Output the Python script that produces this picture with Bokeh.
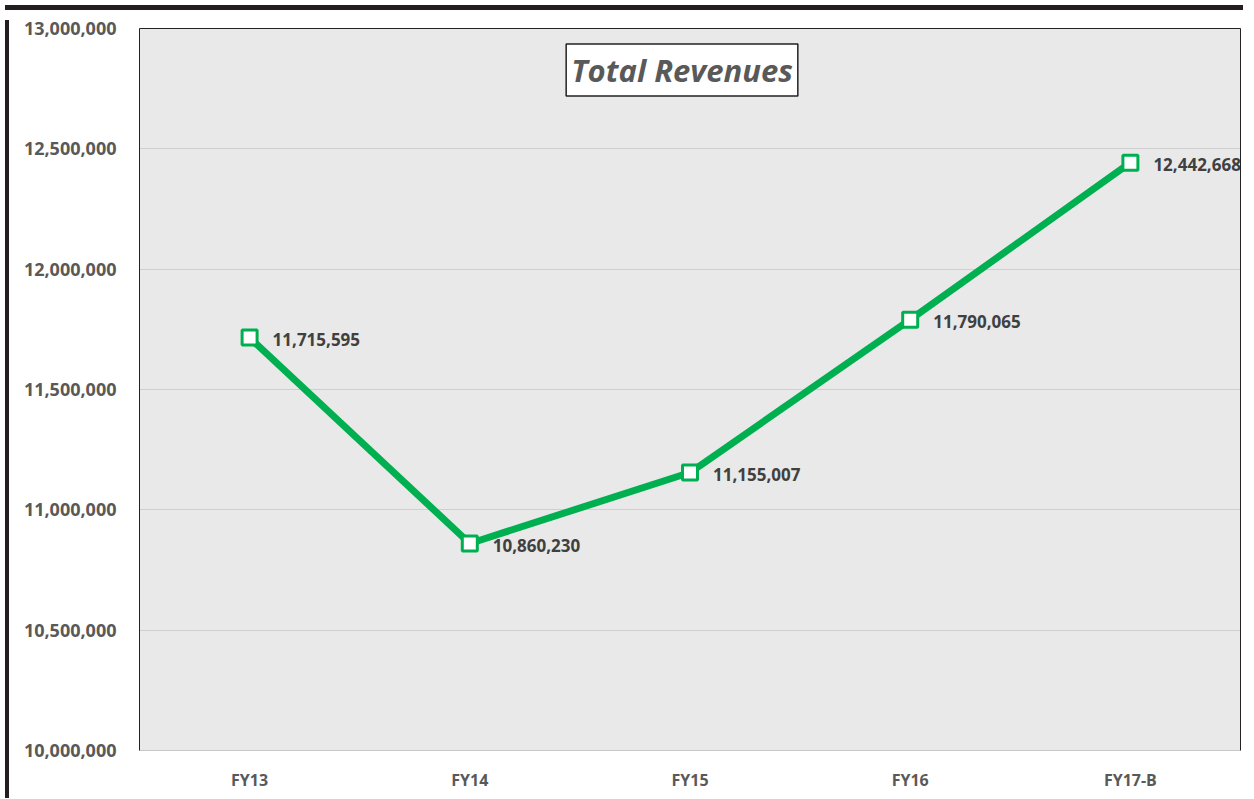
from bokeh.plotting import figure
from bokeh.models import (FactorRange, Range1d, FixedTicker, NumeralTickFormatter,
                          LinearAxis, CategoricalAxis, Label, ColumnDataSource, Div)
from bokeh.layouts import column, row
from bokeh.core.properties import value
from bokeh.embed import file_html
from bokeh.resources import INLINE

categories = ["FY13", "FY14", "FY15", "FY16", "FY17-B"]
revenues = [11715595, 10860230, 11155007, 11790065, 12442668]
y_ticks = [10000000, 10500000, 11000000, 11500000, 12000000, 12500000, 13000000]
title_text = "Total Revenues"

GREEN = "#00B050"
TXT = "#595959"
FONT = "Open Sans"
BORDER = "#231f20"

src = ColumnDataSource(dict(x=categories, y=revenues,
                            lab=[f"{v:,}" for v in revenues]))

p = figure(width=1234, height=778, output_backend="svg", toolbar_location=None,
           x_range=FactorRange(*categories, range_padding=0),
           y_range=Range1d(10000000, 13000000),
           min_border_left=125, min_border_top=13, min_border_right=8,
           min_border_bottom=0)

p.background_fill_color = "#e9e9e9"
p.border_fill_color = "white"
p.outline_line_color = None

p.xgrid.grid_line_color = None
p.ygrid.grid_line_color = "#cfcfcf"
p.ygrid.grid_line_width = 1
p.ygrid.ticker = FixedTicker(ticks=y_ticks)

yax = p.yaxis[0]
yax.ticker = FixedTicker(ticks=y_ticks)
yax.formatter = NumeralTickFormatter(format="0,0")
yax.major_tick_line_color = None
yax.minor_tick_line_color = None
yax.axis_line_color = "#222222"
yax.major_label_text_font = FONT
yax.major_label_text_font_style = "bold"
yax.major_label_text_font_size = "18px"
yax.major_label_text_color = TXT
yax.major_label_standoff = 17

xax = p.xaxis[0]
xax.major_tick_line_color = None
xax.minor_tick_line_color = None
xax.axis_line_color = "#c8c8c8"
xax.major_label_text_font = FONT
xax.major_label_text_font_style = "bold"
xax.major_label_text_font_size = "16px"
xax.major_label_text_color = TXT
xax.major_label_standoff = 12

rax = LinearAxis(ticker=FixedTicker(ticks=[]), axis_line_color="#222222",
                 major_tick_line_color=None, minor_tick_line_color=None,
                 major_label_text_font_size="0px")
p.add_layout(rax, "right")
tax = CategoricalAxis(axis_line_color="#222222", major_tick_line_color=None,
                      minor_tick_line_color=None, major_label_text_font_size="0px",
                      major_label_text_color=None)
p.add_layout(tax, "above")

p.line("x", "y", source=src, line_color=GREEN, line_width=7)
p.scatter("x", "y", source=src, marker="square", size=15, fill_color="white",
          line_color=GREEN, line_width=3)
p.text("x", "y", text="lab", source=src, x_offset=23, y_offset=2,
       text_font=value(FONT), text_font_style="bold", text_font_size="17px",
       text_color="#404040", text_baseline="middle", text_align="left")

title_x = categories.index("FY15") + 0.5
title = Label(x=title_x, y=12828000, x_offset=-8, text=title_text,
              text_font=FONT, text_font_style="bold italic", text_font_size="31px",
              text_color=TXT, text_align="center", text_baseline="middle",
              background_fill_color="white", border_line_color="#222222",
              border_line_width=1.5, padding=5)
p.add_layout(title)

top_bar = Div(width=1238, height=5, styles={"background-color": BORDER})
left_bar = Div(width=4, height=778, styles={"background-color": BORDER})
layout = column(top_bar, row(left_bar, p, spacing=0), spacing=0)

open("out.html", "w").write(file_html(layout, INLINE))
